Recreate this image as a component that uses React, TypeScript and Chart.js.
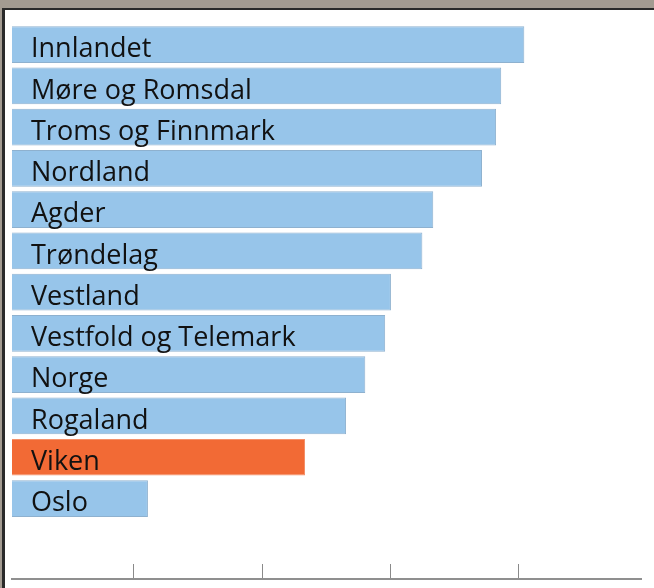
import React, { useEffect, useRef } from "react";
import { Chart, registerables } from "chart.js";

Chart.register(...registerables);

const CATEGORIES: string[] = [
  "Innlandet",
  "Møre og Romsdal",
  "Troms og Finnmark",
  "Nordland",
  "Agder",
  "Trøndelag",
  "Vestland",
  "Vestfold og Telemark",
  "Norge",
  "Rogaland",
  "Viken",
  "Oslo",
];

const VALUES: number[] = [79.9, 76.3, 75.5, 73.3, 65.7, 64.0, 59.1, 58.2, 55.1, 52.1, 45.7, 21.2];

const HIGHLIGHT = "Viken";

const X_TICKS: number[] = [19, 39, 59, 79];

const BLUE = "#97c5ea";
const BLUE_BORDER = "#8eb1cf";
const ORANGE = "#f26a35";
const ORANGE_BORDER = "#f4906a";

const labelPlugin = {
  id: "barLabels",
  afterDatasetsDraw(chart: any) {
    const ctx = chart.ctx;
    const meta = chart.getDatasetMeta(0);
    ctx.save();
    ctx.font = '500 27px "Open Sans"';
    ctx.fillStyle = "#111111";
    ctx.textBaseline = "middle";
    ctx.textAlign = "left";
    meta.data.forEach((bar: any, i: number) => {
      ctx.fillText(CATEGORIES[i], bar.base + 19, bar.y + 5);
    });
    ctx.restore();
  },
};

export default function App() {
  const ref = useRef<HTMLCanvasElement | null>(null);

  useEffect(() => {
    let chart: Chart | null = null;
    let cancelled = false;
    const make = () => {
      if (cancelled || !ref.current) return;
      chart = new Chart(ref.current, {
        type: "bar",
        data: {
          datasets: [
            {
              data: VALUES.map((v, i) => ({ x: v, y: i })) as any,
              backgroundColor: CATEGORIES.map((c) => (c === HIGHLIGHT ? ORANGE : BLUE)),
              borderColor: CATEGORIES.map((c) => (c === HIGHLIGHT ? ORANGE_BORDER : BLUE_BORDER)),
              borderWidth: 1,
              barPercentage: 0.89,
              categoryPercentage: 1,
            },
          ],
        },
        options: {
          indexAxis: "y",
          animation: false,
          responsive: false,
          maintainAspectRatio: false,
          layout: { padding: { left: 12, right: 13, top: 26, bottom: 9 } },
          plugins: {
            legend: { display: false },
            tooltip: { enabled: false },
          },
          scales: {
            y: {
              type: "linear",
              reverse: true,
              offset: false,
              min: -0.45,
              max: 12.95,
              display: false,
              afterBuildTicks: (scale: any) => {
                scale.ticks = CATEGORIES.map((_, i) => ({ value: i }));
              },
            },
            x: {
              type: "linear",
              min: 0,
              max: 98.1,
              offset: false,
              afterBuildTicks: (scale: any) => {
                scale.ticks = X_TICKS.map((v) => ({ value: v }));
              },
              afterFit: (scale: any) => {
                scale.height = 0;
              },
              ticks: { display: false },
              grid: {
                drawOnChartArea: false,
                drawTicks: true,
                tickLength: -15,
                color: "#8a8a8a",
                lineWidth: 1,
              },
              border: { display: true, color: "#8f8f8f", width: 2 },
            },
          },
        },
        plugins: [labelPlugin],
      });
    };
    const fonts: any = (document as any).fonts;
    if (fonts && fonts.load) {
      fonts.load('500 27px "Open Sans"').then(make, make);
    } else {
      make();
    }
    return () => {
      cancelled = true;
      if (chart) chart.destroy();
    };
  }, []);

  return (
    <div
      style={{
        position: "absolute",
        left: 0,
        top: 0,
        width: 654,
        height: 588,
        background: "#a39b91",
        overflow: "hidden",
      }}
    >
      <div
        style={{
          position: "absolute",
          left: 2,
          top: 8,
          right: 0,
          bottom: 0,
          background: "#ffffff",
          borderTop: "2px solid #2a2a2a",
          borderLeft: "3px solid #2a2a2a",
        }}
      />
      <canvas
        ref={ref}
        width={654}
        height={588}
        style={{ position: "absolute", left: 0, top: 0, width: 654, height: 588 }}
      />
    </div>
  );
}
